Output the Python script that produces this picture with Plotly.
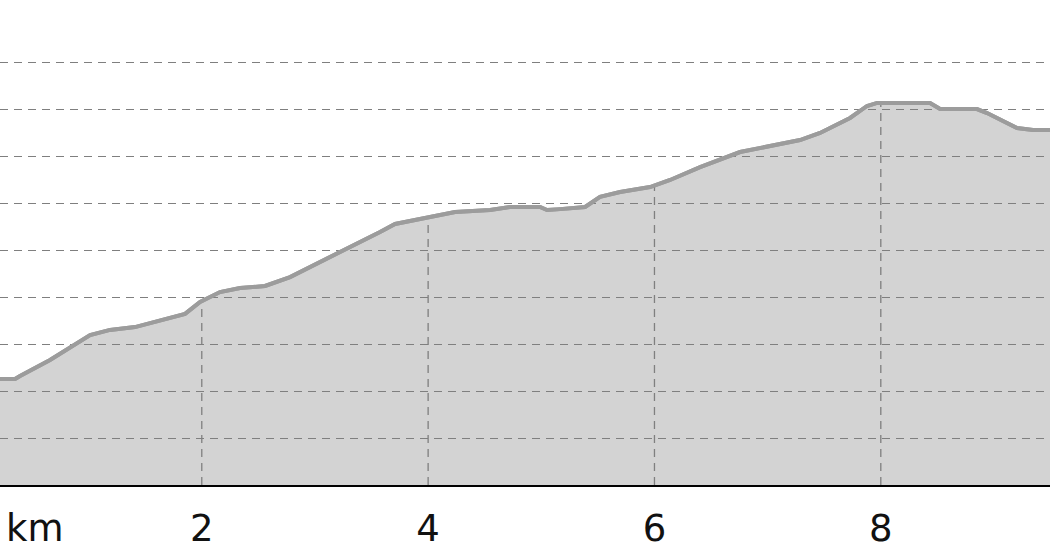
import numpy as np
import plotly.graph_objects as go

# elevation profile (distance in km, elevation in m)
dist_km = [0.217, 0.350, 0.394, 0.659, 1.013, 1.189, 1.410, 1.631, 1.852, 1.985,
           2.161, 2.338, 2.559, 2.780, 3.045, 3.310, 3.575, 3.708, 3.991, 4.238,
           4.548, 4.724, 4.989, 5.051, 5.166, 5.387, 5.519, 5.696, 5.961, 6.138,
           6.403, 6.756, 7.286, 7.463, 7.728, 7.878, 7.967, 8.435, 8.524, 8.850,
           8.939, 9.204, 9.345, 9.495]
elev_m = [245.1, 245.1, 246.4, 253.2, 263.8, 266.0, 267.2, 270.2, 272.8, 277.9,
          282.1, 283.8, 284.7, 288.5, 294.9, 300.9, 307.7, 311.1, 314.0, 316.2,
          317.0, 318.3, 318.3, 317.0, 317.4, 318.3, 322.6, 324.7, 326.8, 329.8,
          335.3, 341.7, 346.8, 349.8, 356.2, 361.3, 362.6, 362.6, 360.0, 360.0,
          358.3, 351.9, 351.1, 351.1]

x_ticks = [2, 4, 6, 8]
y_grid = [200, 220, 240, 260, 280, 300, 320, 340, 360, 380]
y_base = 200

grid_color = '#7f7f7f'
grid_dash = '8px,6px'

fig = go.Figure()

# filled area (translucent so the horizontal grid shows through)
fig.add_trace(go.Scatter(
    x=dist_km, y=elev_m,
    mode='lines',
    fill='tozeroy',
    fillcolor='rgba(128,128,128,0.35)',
    line=dict(color='#9c9c9c', width=4),
    hoverinfo='skip'
))

# vertical km markers, only drawn under the profile
vx, vy = [], []
for t in x_ticks:
    top = float(np.interp(t, dist_km, elev_m))
    vx += [t, t, None]
    vy += [y_base, top, None]
fig.add_trace(go.Scatter(
    x=vx, y=vy, mode='lines',
    line=dict(color=grid_color, width=1.3, dash=grid_dash),
    hoverinfo='skip'
))
# redraw the profile line on top
fig.add_trace(go.Scatter(
    x=dist_km, y=elev_m, mode='lines',
    line=dict(color='#9c9c9c', width=4),
    hoverinfo='skip'
))

fig.update_layout(
    width=1050, height=560,
    showlegend=False,
    paper_bgcolor='white',
    plot_bgcolor='white',
    margin=dict(l=0, r=0, t=0, b=75),
    font=dict(family='DejaVu Sans', color='#111111'),
    xaxis=dict(
        range=[0.217, 9.495],
        tickvals=x_ticks,
        ticktext=[str(t) for t in x_ticks],
        tickfont=dict(size=37),
        showgrid=False,
        zeroline=False,
        showline=True, linecolor='black', linewidth=2,
        ticks='', ticklabelstandoff=10,
    ),
    yaxis=dict(
        range=[200, 406.4],
        tickvals=y_grid,
        showticklabels=False,
        showgrid=True, gridcolor=grid_color, gridwidth=1.3, griddash=grid_dash,
        zeroline=False, showline=False, ticks='',
    ),
    annotations=[dict(
        text='km', xref='paper', yref='paper', x=0, y=0,
        xanchor='left', yanchor='top', xshift=4, yshift=-20,
        showarrow=False, font=dict(size=37, family='DejaVu Sans', color='#111111')
    )]
)

fig.write_html("out.html", config={'displayModeBar': False},
               post_script="document.body.style.margin='0';")
